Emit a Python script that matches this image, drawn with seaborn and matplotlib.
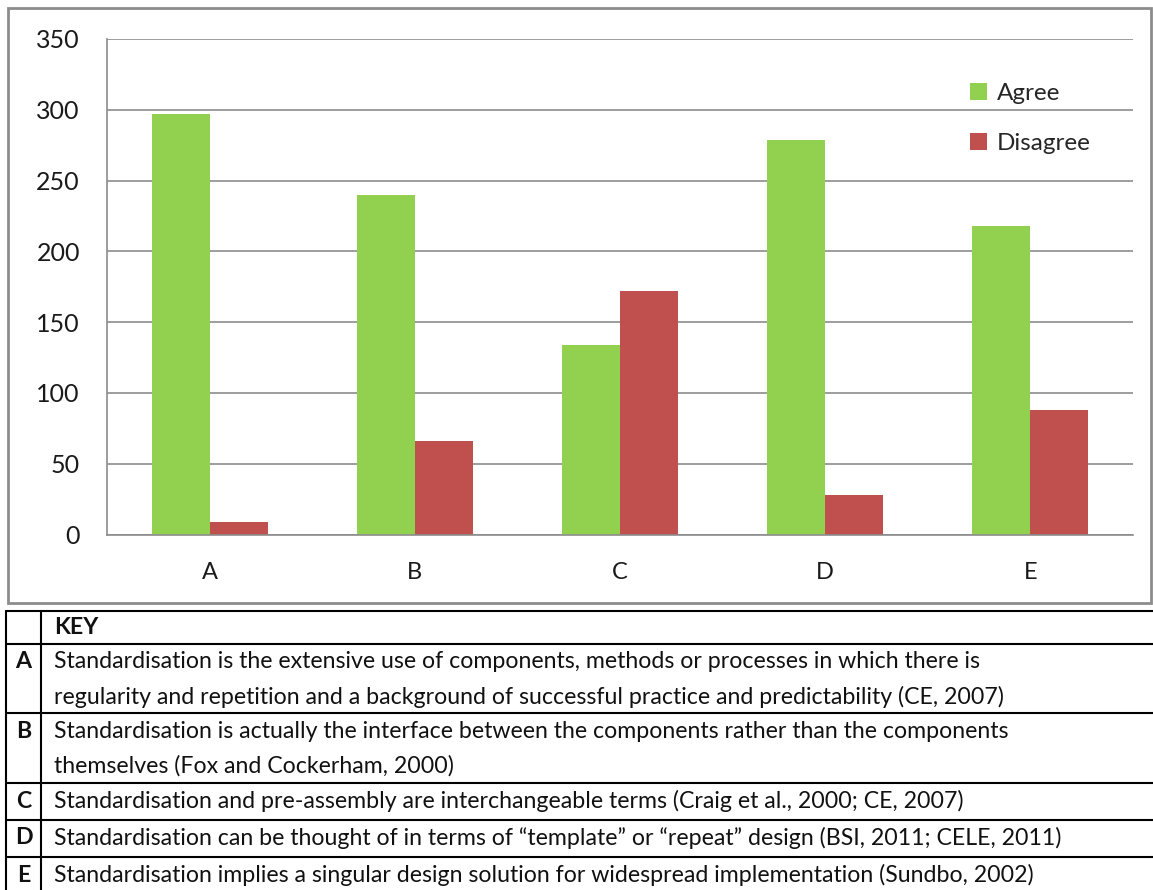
import matplotlib
matplotlib.use("Agg")
import matplotlib.pyplot as plt
from matplotlib.patches import Rectangle
from matplotlib.lines import Line2D
import seaborn as sns
import pandas as pd

# Survey responses per statement
categories = ["A", "B", "C", "D", "E"]
agree = [297, 240, 134, 279, 218]
disagree = [9, 66, 172, 28, 88]
series_names = ["Agree", "Disagree"]
y_ticks = [0, 50, 100, 150, 200, 250, 300, 350]

key_header = "KEY"
key_rows = [
    ("A", ["Standardisation is the extensive use of components, methods or processes in which there is",
           "regularity and repetition and a background of successful practice and predictability (CE, 2007)"]),
    ("B", ["Standardisation is actually the interface between the components rather than the components",
           "themselves (Fox and Cockerham, 2000)"]),
    ("C", ["Standardisation and pre-assembly are interchangeable terms (Craig et al., 2000; CE, 2007)"]),
    ("D", ["Standardisation can be thought of in terms of \u201ctemplate\u201d or \u201crepeat\u201d design (BSI, 2011; CELE, 2011)"]),
    ("E", ["Standardisation implies a singular design solution for widespread implementation (Sundbo, 2002)"]),
]

df = pd.DataFrame({
    "Statement": categories * 2,
    "Response": [series_names[0]] * len(categories) + [series_names[1]] * len(categories),
    "Count": agree + disagree,
})

sns.set_theme(style="white")
plt.rcParams["font.family"] = ["Lato", "DejaVu Sans"]

W, H = 1153, 890
fig = plt.figure(figsize=(W / 100, H / 100), dpi=100)

# Chart frame
fig.add_artist(Rectangle((8 / W, 1 - 603 / H), (1151 - 8) / W, (603 - 8) / H,
                         transform=fig.transFigure, fill=False,
                         edgecolor="#8c8c8c", linewidth=2))

ax = fig.add_axes([107 / W, 1 - 534.5 / H, (1133 - 107) / W, (534.5 - 39) / H])
palette = {"Agree": "#92D050", "Disagree": "#C0504D"}
sns.barplot(data=df, x="Statement", y="Count", hue="Response", palette=palette,
            width=0.566, ax=ax, saturation=1, edgecolor="none", legend=True)

ax.set_xlim(-0.5, 4.5)
ax.set_ylim(0, 350)
ax.set_yticks(y_ticks)
ax.set_yticklabels([str(v) for v in y_ticks], fontsize=18, color="#1a1a1a")
ax.set_xticks(range(len(categories)))
ax.set_xticklabels(categories, fontsize=17, color="#1a1a1a")
ax.set_xticks([i - 0.5 for i in range(len(categories) + 1)], minor=True)
ax.tick_params(axis="x", which="major", length=0, pad=20)
ax.tick_params(axis="x", which="minor", length=5.5, width=1.2, color="#8c8c8c", direction="out")
ax.tick_params(axis="y", which="major", length=6.5, width=1.2, color="#8c8c8c", direction="out", pad=13)
ax.set_xlabel("")
ax.set_ylabel("")
ax.yaxis.grid(True, color="#8c8c8c", linewidth=1.2)
ax.set_axisbelow(True)
for side in ["top", "right"]:
    ax.spines[side].set_visible(False)
for side in ["left", "bottom"]:
    ax.spines[side].set_color("#8c8c8c")
    ax.spines[side].set_linewidth(1.2)

leg = ax.legend(title=None, loc="upper left", bbox_to_anchor=(0.82, 0.955),
                frameon=False, fontsize=17.5, handlelength=0.7, handleheight=0.7,
                handletextpad=0.4, labelspacing=1.2)

# Key table in pixel coordinates
tab = fig.add_axes([0, 0, 1, 1])
tab.set_xlim(0, W)
tab.set_ylim(H, 0)
tab.axis("off")
tab.patch.set_alpha(0)

row_lines = [611, 644, 713, 783, 820, 857]
for y in row_lines:
    tab.add_line(Line2D([6, W], [y, y], color="black", linewidth=1.5))
tab.add_line(Line2D([6, 6], [611, H], color="black", linewidth=1.5))
tab.add_line(Line2D([41, 41], [611, H], color="black", linewidth=1.5))

text_kw = dict(fontsize=16.7, color="#111111", va="center")
tab.text(54, 628, key_header, fontweight="bold", **text_kw)
row_tops = row_lines[1:] + [H + 35]
line_h = 35
for (label, lines), top in zip(key_rows, row_tops):
    yc = top + 18
    tab.text(23.5, yc, label, ha="center", fontweight="bold", **text_kw)
    for i, ln in enumerate(lines):
        tab.text(54, yc + i * line_h, ln, **text_kw)

fig.savefig("out.png", dpi=100)
